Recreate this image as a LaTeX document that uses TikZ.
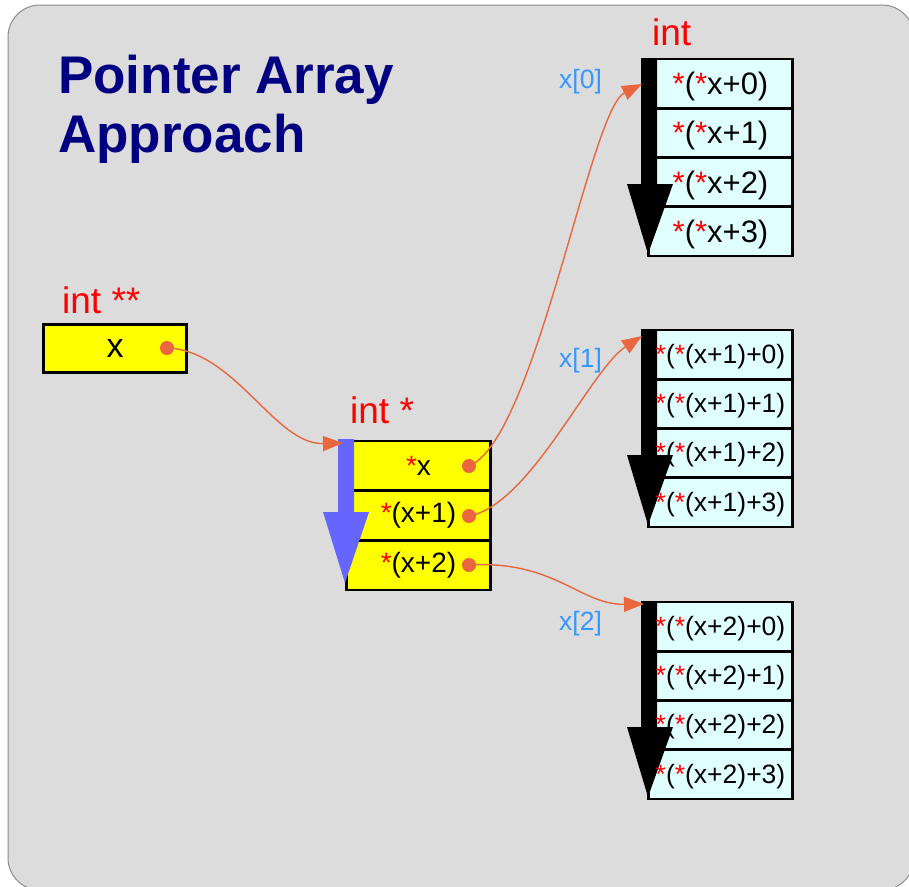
\documentclass[tikz,border=0pt]{standalone}
\usepackage{fontspec}
\setmainfont{Liberation Sans}
\usetikzlibrary{arrows.meta,positioning}
\definecolor{ptrGray}{HTML}{DCDCDC}
\definecolor{ptrFrame}{HTML}{8C8C8C}
\definecolor{ptrNavy}{HTML}{000080}
\definecolor{ptrRed}{HTML}{FF0000}
\definecolor{ptrYellow}{HTML}{FFFF00}
\definecolor{ptrCyan}{HTML}{E0FFFF}
\definecolor{ptrLink}{HTML}{E9663F}
\definecolor{ptrIdx}{HTML}{3399FF}
\definecolor{ptrBlue}{HTML}{6666FF}
\newcommand{\rstar}{\textcolor{ptrRed}{*}}

\begin{document}
\begin{tikzpicture}[x=1pt,y=-1pt,line join=miter]
\useasboundingbox (0,0) rectangle (909,886);
\path[fill=ptrGray,draw=ptrFrame,line width=1pt,rounded corners=32pt] (8,5) rectangle (914,890);
\tikzset{cell/.style={draw=black,line width=2.8pt,minimum width=144pt,minimum height=49.3pt,inner sep=0pt,outer sep=0pt},
  ycell/.style={cell,fill=ptrYellow},ccell/.style={cell,fill=ptrCyan},
  link/.style={draw=ptrLink,line width=1.4pt,-{Triangle[length=20pt,width=15pt]}},
  dot/.style={circle,fill=ptrLink,inner sep=0pt,minimum size=14pt},
  tag/.style={text=ptrRed,font=\fontsize{37pt}{37pt}\selectfont,anchor=base west,inner sep=0pt},
  idx/.style={text=ptrIdx,font=\fontsize{26.5pt}{26.5pt}\selectfont,anchor=base west,inner sep=0pt},
  bigtxt/.style={font=\fontsize{31pt}{31pt}\selectfont,yshift=-3pt},
  smalltxt/.style={font=\fontsize{26.5pt}{26.5pt}\selectfont,yshift=-2pt},
  midtxt/.style={font=\fontsize{28pt}{28pt}\selectfont}}
% title
\node[anchor=base west,inner sep=0pt,text=ptrNavy,font=\bfseries\fontsize{53pt}{53pt}\selectfont] (title1) at (58,93) {Pointer Array};
\node[anchor=base west,inner sep=0pt,text=ptrNavy,font=\bfseries\fontsize{53pt}{53pt}\selectfont] (title2) at (58,152) {Approach};
% int ** x
\node[tag] (tag2) at (62,313) {int **};
\node[ycell,minimum width=143pt,minimum height=48pt,font=\fontsize{34pt}{34pt}\selectfont] (xbox) at (115,348.5) {x};
% int * array
\node[tag] (tag1) at (350,423) {int *};
\node[ycell,midtxt,minimum height=49.7pt] (m0) at (418.5,465.8) {\rstar x};
\node[ycell,midtxt,minimum height=49.7pt] (m1) at (418.5,515.5) {\rstar(x+1)};
\node[ycell,midtxt,minimum height=49.7pt] (m2) at (418.5,565.2) {\rstar(x+2)};
\path[fill=ptrBlue] (338,439) -- (354,439) -- (354,512) -- (369,512) -- (345,583) -- (323,512) -- (338,512) -- cycle;
\coordinate (m-in) at (343,443);
% int arrays
\node[tag] (tag0) at (652,45) {int};
\foreach \a/\tp in {0/59,1/330,2/602}{
  \foreach \r in {0,...,3}
    \node[ccell] (a\a-r\r) at (720.5,\tp+24.6+49.25*\r) {};
  \path[fill=black] (641,\tp-1) -- (657,\tp-1) -- (657,\tp+125) -- (673,\tp+125) -- (648,\tp+195) -- (627,\tp+125) -- (641,\tp+125) -- cycle;
}
\foreach \r in {0,...,3}
  \node[bigtxt] (a0-t\r) at (a0-r\r) {\rstar(\rstar x+\r)};
\foreach \a in {1,2}
  \foreach \r in {0,...,3}
    \node[smalltxt] (a\a-t\r) at (a\a-r\r) {\rstar(\rstar(x+\a)+\r)};
\coordinate (a0-in) at (642,84);
\coordinate (a1-in) at (642,336);
\coordinate (a2-in) at (644,604);
\node[idx] (idx0) at (559,88) {x[0]};
\node[idx] (idx1) at (559,367) {x[1]};
\node[idx] (idx2) at (559,630) {x[2]};
% pointers
\node[dot] (xdot) at (167,348) {};
\node[dot] (m0dot) at (469,466) {};
\node[dot] (m1dot) at (469,516) {};
\node[dot] (m2dot) at (469,565) {};
\draw[link] (xdot.center) .. controls (235,350) and (275,445) .. (m-in);
\draw[link] (m0dot.center) .. controls (535,440) and (590,110) .. (a0-in);
\draw[link] (m1dot.center) .. controls (530,505) and (590,370) .. (a1-in);
\draw[link] (m2dot.center) .. controls (555,560) and (580,605) .. (a2-in);
\end{tikzpicture}
\end{document}
